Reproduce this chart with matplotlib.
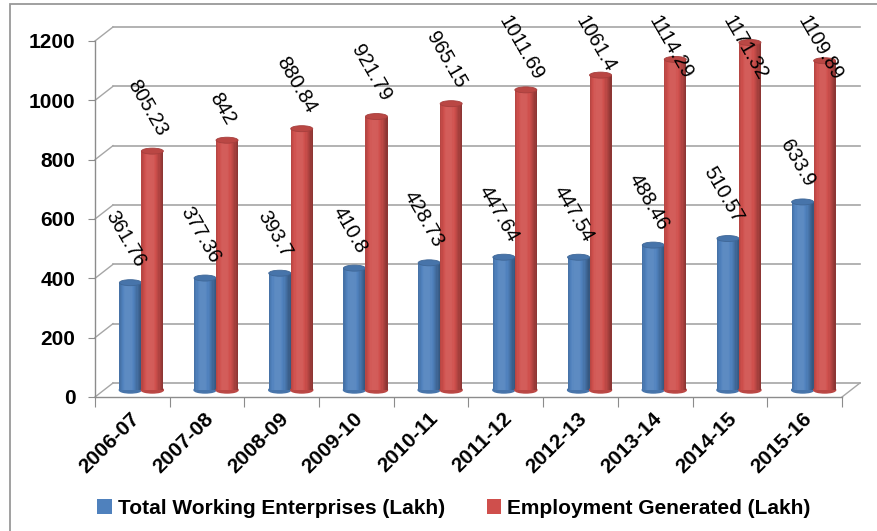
import numpy as np
import matplotlib
matplotlib.use('Agg')
import matplotlib.pyplot as plt
from matplotlib.patches import Rectangle, Ellipse, Patch
from matplotlib.transforms import offset_copy
from matplotlib.colors import to_rgb

plt.rcParams['font.family'] = ['Liberation Sans', 'DejaVu Sans']

periods = ['2006-07', '2007-08', '2008-09', '2009-10', '2010-11',
           '2011-12', '2012-13', '2013-14', '2014-15', '2015-16']
enterprises = [361.76, 377.36, 393.7, 410.8, 428.73, 447.64, 447.54, 488.46, 510.57, 633.9]
employment = [805.23, 842, 880.84, 921.79, 965.15, 1011.69, 1061.4, 1114.29, 1171.32, 1109.89]

series = [('Total Working Enterprises (Lakh)', enterprises, '#4F81BD'),
          ('Employment Generated (Lakh)', employment, '#CF4F4C')]

W, H = 878, 531
fig = plt.figure(figsize=(W / 100, H / 100), dpi=100)
# front frame of the 3d box, in pixels
left, right, bottom, top = 95, 842, 397, 41
ax = fig.add_axes([left / W, 1 - bottom / H, (right - left) / W, (bottom - top) / H])
n = len(periods)
ymax = 1200
ax.set_xlim(0, n)
ax.set_ylim(0, ymax)

grey = '#8C8C8C'
depth_x, depth_y = 18, 14
back = offset_copy(ax.transData, fig=fig, x=depth_x, y=depth_y, units='dots')
mid = offset_copy(ax.transData, fig=fig, x=depth_x / 2, y=depth_y / 2, units='dots')

for sp in ['top', 'right']:
    ax.spines[sp].set_visible(False)
for sp in ['left', 'bottom']:
    ax.spines[sp].set_color(grey)
    ax.spines[sp].set_linewidth(1.0)

yticks = np.arange(0, ymax + 1, 200)
ax.set_yticks(yticks)
ax.set_yticklabels([str(v) for v in yticks], fontsize=15, fontweight='bold')
ax.tick_params(axis='y', length=5, color=grey, pad=9)

ax.set_xticks(np.arange(n + 1))
ax.set_xticklabels([])
ax.tick_params(axis='x', length=7, color=grey)

# back wall gridlines and left wall edges
for v in yticks:
    ax.plot([0, n], [v, v], color='#A6A6A6', lw=1.2, transform=back, clip_on=False, zorder=1)
    p0 = ax.transData.transform((0, v))
    p1 = back.transform((0, v))
    ax.plot([p0[0], p1[0]], [p0[1], p1[1]], color='#A6A6A6', lw=1.0,
            transform=None, clip_on=False, zorder=1)
# right floor edge
p0 = ax.transData.transform((n, 0))
p1 = back.transform((n, 0))
ax.plot([p0[0], p1[0]], [p0[1], p1[1]], color='#A6A6A6', lw=1.0,
        transform=None, clip_on=False, zorder=1)


def shade(color, f):
    c = np.array(to_rgb(color))
    if f >= 1:
        return tuple(c + (1 - c) * (f - 1))
    return tuple(c * f)


px_per_unit = (bottom - top) / ymax
cap_h = 6 / px_per_unit
bar_w = 22 / ((right - left) / n)
strips = 18


def cylinder(x0, val, color, z):
    ax.add_patch(Ellipse((x0 + bar_w / 2, 0), bar_w, cap_h, color=shade(color, 0.9),
                         transform=mid, clip_on=False, zorder=z))
    for k in range(strips):
        t = (k + 0.5) / strips
        f = 0.8 + 0.3 * np.cos((t - 0.4) * np.pi * 1.1)
        ax.add_patch(Rectangle((x0 + k * bar_w / strips, 0), bar_w / strips * 1.05, val,
                               color=shade(color, min(f, 1.08)), lw=0,
                               transform=mid, clip_on=False, zorder=z))
    ax.add_patch(Ellipse((x0 + bar_w / 2, val), bar_w, cap_h, facecolor=shade(color, 0.9),
                         edgecolor=shade(color, 0.8), lw=0.6,
                         transform=mid, clip_on=False, zorder=z + 0.1))


labels = []
for s, (name, vals, color) in enumerate(series):
    for i, v in enumerate(vals):
        x0 = i + 0.5 - bar_w + s * bar_w
        cylinder(x0, v, color, 3 + s)
        lab = ax.annotate(f'{v:g}', xy=(x0 + bar_w / 2, v), xycoords=mid,
                          xytext=(-5, 12), textcoords='offset pixels',
                          rotation=-60, ha='center', va='bottom', fontsize=14.5,
                          annotation_clip=False, zorder=10)
        labels.append(lab)

# keep labels inside the chart area
fig.canvas.draw()
renderer = fig.canvas.get_renderer()
limit = H - 13
for lab in labels:
    bb = lab.get_window_extent(renderer)
    if bb.y1 > limit:
        lab.set_va('top')
        lab.xyann = (lab.xyann[0], lab.xyann[1] - (bb.y1 - limit) + bb.height)

# category labels
xt = offset_copy(ax.get_xaxis_transform(), fig=fig, x=-3, y=-12, units='dots')
for i, p in enumerate(periods):
    ax.text(i + 0.5, 0, p, transform=xt, rotation=45, ha='right', va='top',
            rotation_mode='anchor', fontsize=15, fontweight='bold')

handles = [Patch(facecolor=c, edgecolor='none') for _, _, c in series]
fig.legend(handles, [nm for nm, _, _ in series], loc='center', ncol=2,
           bbox_to_anchor=(0.517, 0.043), frameon=False,
           prop={'size': 15, 'weight': 'bold'}, handlelength=0.7, handleheight=0.7,
           handletextpad=0.3, columnspacing=2.0)

fig.patches.append(Rectangle((10 / W, -0.1), 2, 1.1 - 4 / H, transform=fig.transFigure,
                             fill=False, ec='#999999', lw=1.3))

fig.savefig('out.png', dpi=100)
